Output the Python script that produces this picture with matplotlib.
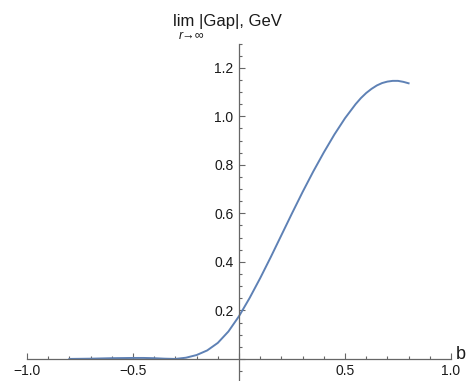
import numpy as np
import matplotlib
matplotlib.use("Agg")
import matplotlib.pyplot as plt
from matplotlib.ticker import MultipleLocator, FuncFormatter

plt.rcParams['font.family'] = ['Liberation Sans', 'DejaVu Sans']

# valeurs
b = [-0.8, -0.7, -0.6, -0.5, -0.45, -0.4, -0.35, -0.3, -0.25, -0.2, -0.15,
     -0.1, -0.05, 0.0, 0.05, 0.1, 0.15, 0.2, 0.25, 0.3, 0.35, 0.4, 0.45,
     0.5, 0.55, 0.575, 0.6, 0.625, 0.65, 0.675, 0.7, 0.725, 0.75, 0.775, 0.8]
gap = [0.0, 0.001, 0.003, 0.004, 0.004, 0.003, 0.001, 0.0, 0.005, 0.016, 0.035,
       0.066, 0.113, 0.176, 0.251, 0.333, 0.42, 0.51, 0.6, 0.688, 0.772, 0.851, 0.925,
       0.992, 1.05, 1.075, 1.096, 1.113, 1.127, 1.137, 1.143, 1.146, 1.146, 1.142, 1.136]

W, H = 473, 381
fig = plt.figure(figsize=(W / 100, H / 100), dpi=100)
ax = fig.add_axes([27 / W, 0, 424 / W, (H - 43.5) / H])

ax.plot(b, gap, color='#5E81B5', lw=1.4)

ax.set_xlim(-1.0, 1.0)
ax.set_ylim(-0.091, 1.30)

axe_col = '#666666'
for s in ['top', 'right']:
    ax.spines[s].set_visible(False)
for s in ['left', 'bottom']:
    ax.spines[s].set_position(('data', 0))
    ax.spines[s].set_color(axe_col)
    ax.spines[s].set_linewidth(0.9)

ax.xaxis.set_major_locator(MultipleLocator(0.5))
ax.xaxis.set_minor_locator(MultipleLocator(0.1))
ax.yaxis.set_major_locator(MultipleLocator(0.2))
ax.yaxis.set_minor_locator(MultipleLocator(0.05))

def fmt(v, pos):
    if abs(v) < 1e-9:
        return ''
    return f"{v:.1f}".replace('-', '\u2212')

ax.xaxis.set_major_formatter(FuncFormatter(fmt))
ax.yaxis.set_major_formatter(FuncFormatter(fmt))

ax.tick_params(which='both', direction='in', color=axe_col, width=0.8,
               labelsize=10, labelcolor='#1a1a1a')
ax.tick_params(which='major', length=4.5)
ax.tick_params(which='minor', length=2.2)
ax.tick_params(axis='x', pad=4)
ax.tick_params(axis='y', pad=4)
ax.patch.set_alpha(0)

# libelles des axes
ax.text(1.012, 0.0, 'b', transform=ax.get_yaxis_transform(), fontsize=13,
        ha='left', va='baseline', color='#1a1a1a')
fig.text(173 / W, 1 - 26 / H, 'lim |Gap|, GeV', fontsize=12,
         ha='left', va='baseline', color='#1a1a1a')
fig.text(192 / W, 1 - 39 / H, 'r\u2192\u221e', fontsize=9, style='italic',
         ha='center', va='baseline', color='#1a1a1a')

fig.savefig('out.png', dpi=100)
